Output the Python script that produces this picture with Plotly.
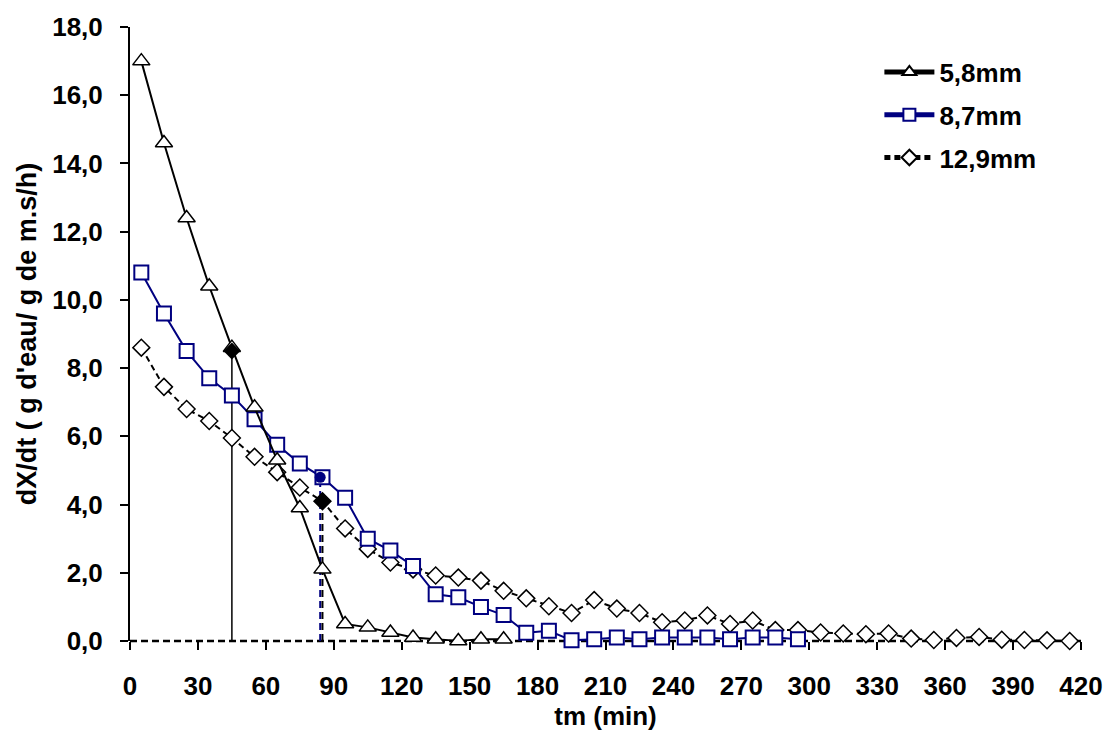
import plotly.graph_objects as go

# ---- data ----
t_58 = [5, 15, 25, 35, 45, 55, 65, 75, 85, 95, 105, 115, 125, 135, 145, 155, 165]
v_58 = [17.0, 14.6, 12.4, 10.4, 8.6, 6.85, 5.3, 3.9, 2.1, 0.5, 0.4, 0.25, 0.1, 0.05, 0.0, 0.05, 0.05]

t_87 = [5, 15, 25, 35, 45, 55, 65, 75, 85, 95, 105, 115, 125, 135, 145, 155, 165, 175,
        185, 195, 205, 215, 225, 235, 245, 255, 265, 275, 285, 295]
v_87 = [10.8, 9.6, 8.5, 7.7, 7.2, 6.5, 5.75, 5.2, 4.8, 4.2, 3.0, 2.65, 2.2, 1.37, 1.28, 1.0,
        0.76, 0.24, 0.3, 0.02, 0.05, 0.1, 0.05, 0.1, 0.1, 0.1, 0.05, 0.1, 0.1, 0.05]

t_129 = [5, 15, 25, 35, 45, 55, 65, 75, 85, 95, 105, 115, 125, 135, 145, 155, 165, 175,
         185, 195, 205, 215, 225, 235, 245, 255, 265, 275, 285, 295, 305, 315, 325, 335,
         345, 355, 365, 375, 385, 395, 405, 415]
v_129 = [8.6, 7.45, 6.8, 6.45, 5.95, 5.4, 4.95, 4.5, 4.1, 3.3, 2.7, 2.3, 2.1, 1.92, 1.86,
         1.77, 1.47, 1.25, 1.02, 0.82, 1.2, 0.95, 0.82, 0.55, 0.6, 0.75, 0.5, 0.6, 0.32,
         0.32, 0.25, 0.22, 0.2, 0.22, 0.07, 0.03, 0.09, 0.12, 0.04, 0.03, 0.02, 0.0]

# critical points (vertical markers)
crit_t = [45, 84, 85]
crit_v = [8.5, 4.8, 4.1]
crit_colors = ["black", "#000080", "black"]
crit_dash = ["solid", "dash", "dash"]
crit_symbols = ["diamond", "circle", "diamond"]

x_ticks = list(range(0, 421, 30))
y_ticks = [0, 2, 4, 6, 8, 10, 12, 14, 16, 18]

series_names = ["5,8mm", "8,7mm", "12,9mm"]

FONT = "Arial, Liberation Sans, sans-serif"
NAVY = "#000080"

fig = go.Figure()

# vertical reference lines drawn first (behind)
for t, v, c, d in zip(crit_t, crit_v, crit_colors, crit_dash):
    fig.add_trace(go.Scatter(x=[t, t], y=[0, v], mode="lines",
                             line=dict(color=c, width=2 if d == "dash" else 1.5,
                                       dash="7px,4px" if d == "dash" else d),
                             showlegend=False, hoverinfo="skip"))

fig.add_trace(go.Scatter(
    x=t_129, y=v_129, name=series_names[2], mode="lines+markers",
    line=dict(color="black", width=2, dash="6px,4px"),
    marker=dict(symbol="diamond", size=13, color="white", line=dict(color="black", width=1.5)),
    legendgroup="c", legendrank=3, cliponaxis=False))

fig.add_trace(go.Scatter(
    x=t_87, y=v_87, name=series_names[1], mode="lines+markers",
    line=dict(color=NAVY, width=2),
    marker=dict(symbol="square", size=14, color="white", line=dict(color=NAVY, width=2)),
    legendgroup="b", legendrank=2, cliponaxis=False))

fig.add_trace(go.Scatter(
    x=t_58, y=v_58, name=series_names[0], mode="lines+markers",
    line=dict(color="black", width=2),
    marker=dict(symbol="triangle-up", size=15, color="white", line=dict(color="black", width=1.5)),
    legendgroup="a", legendrank=1, cliponaxis=False))

# filled critical-point markers on top
for t, v, c, s in zip(crit_t, crit_v, crit_colors, crit_symbols):
    fig.add_trace(go.Scatter(x=[t], y=[v], mode="markers",
                             marker=dict(symbol=s, size=13 if s == "diamond" else 11, color=c),
                             showlegend=False, hoverinfo="skip", cliponaxis=False))

# dashed x-axis baseline (bottom edge of the plot area)
fig.add_shape(type="line", xref="paper", x0=0, x1=1, yref="paper", y0=0, y1=0,
              line=dict(color="black", width=2.5, dash="7px,4px"), layer="below")

fig.update_layout(
    width=1115, height=742,
    margin=dict(l=130, r=27, t=22, b=101),
    paper_bgcolor="white", plot_bgcolor="white",
    separators=", ",
    font=dict(family=FONT, size=26, color="black", weight="bold"),
    showlegend=True,
    legend=dict(x=0.788, y=0.965, xanchor="left", yanchor="top", itemwidth=50,
                bgcolor="rgba(0,0,0,0)", font=dict(size=26, family=FONT, weight="bold"),
                traceorder="grouped", tracegroupgap=6, itemsizing="constant"),
    xaxis=dict(range=[0, 420], tickvals=x_ticks, ticktext=[str(v) for v in x_ticks],
               showgrid=False, zeroline=False, showline=False,
               ticks="outside", ticklen=8, tickwidth=2, tickcolor="black",
               ticklabelstandoff=14,
               title=dict(text="tm (min)", standoff=6,
                          font=dict(size=26, family=FONT, weight="bold"))),
    yaxis=dict(range=[0, 18], tickvals=y_ticks, tickformat=".1f",
               showgrid=False, zeroline=False, showline=True, linecolor="black", linewidth=2,
               ticks="outside", ticklen=8, tickwidth=2, tickcolor="black",
               ticklabelstandoff=12,
               title=dict(text="dX/dt ( g d'eau/ g de m.s/h)", standoff=8,
                          font=dict(size=27, family=FONT, weight="bold"))),
)

fig.write_html("out.html")
